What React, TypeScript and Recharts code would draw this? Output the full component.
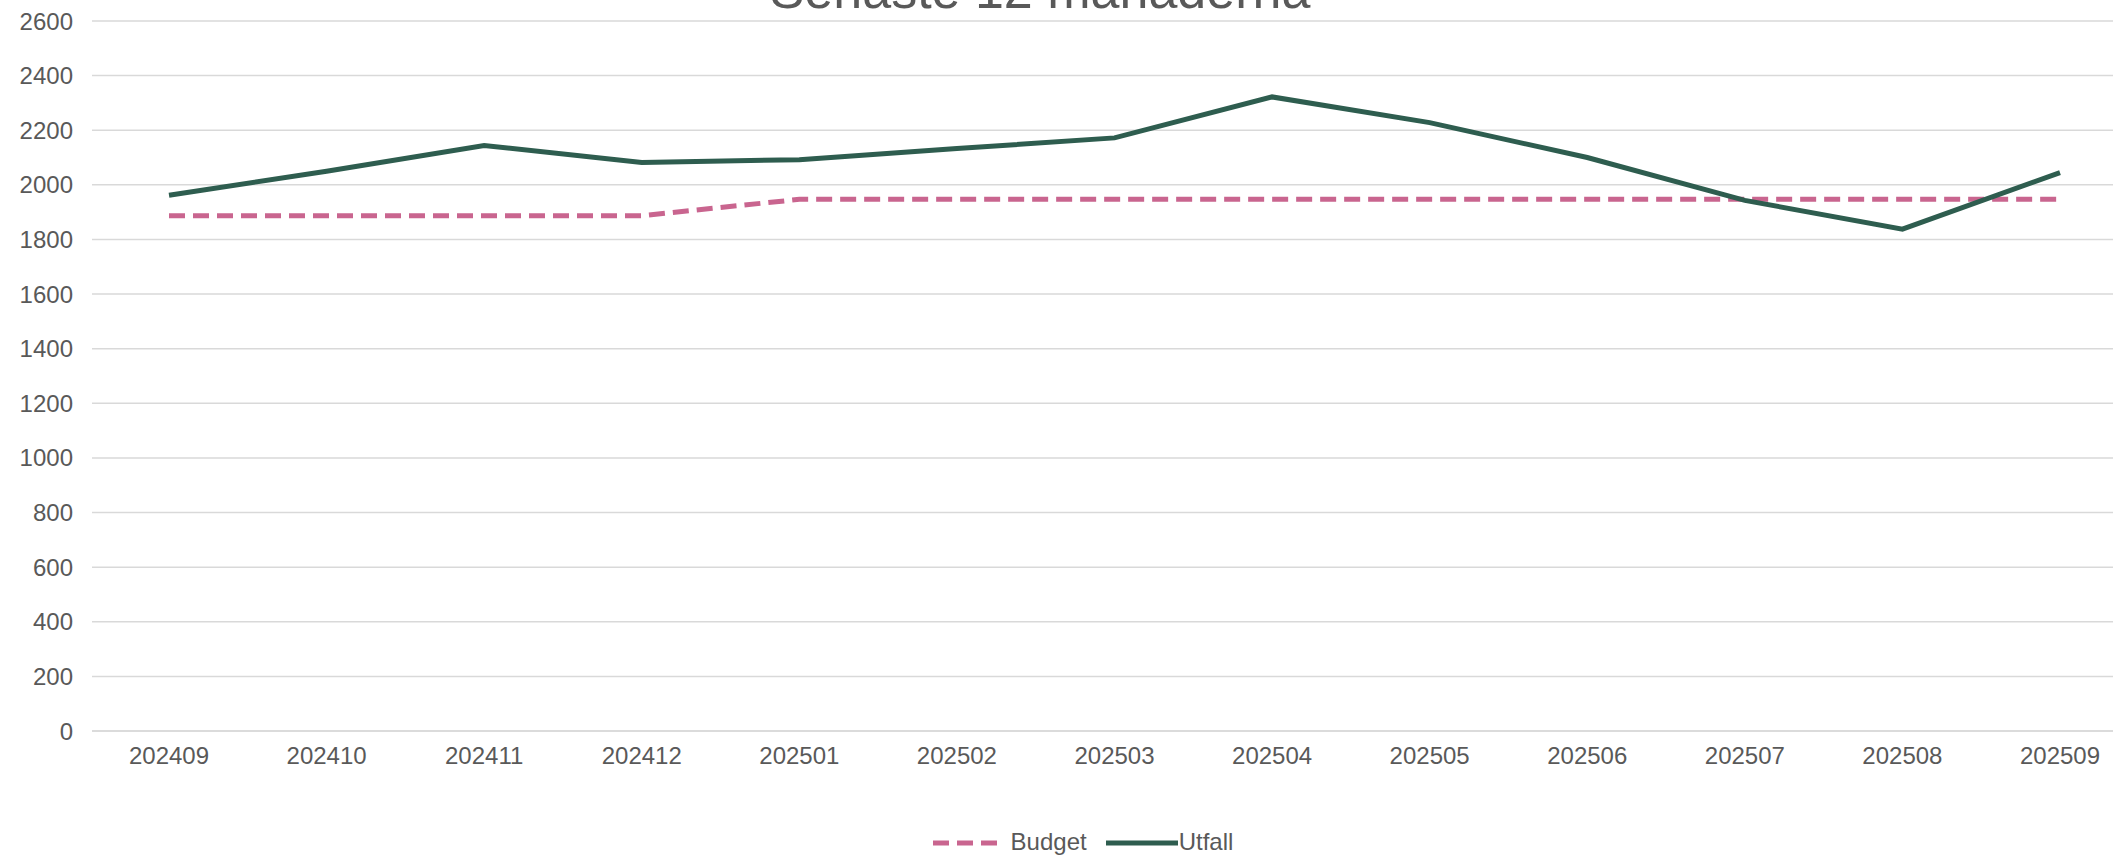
import React from 'react';
import { LineChart, Line, XAxis, YAxis, CartesianGrid, Legend } from 'recharts';

const months = ['202409', '202410', '202411', '202412', '202501', '202502', '202503', '202504', '202505', '202506', '202507', '202508', '202509'];
const budget = [1887, 1887, 1887, 1887, 1947, 1947, 1947, 1947, 1947, 1947, 1947, 1947, 1947];
const utfall = [1962, 2050, 2144, 2082, 2092, 2133, 2172, 2322, 2228, 2100, 1943, 1838, 2045];
const yTicks = [0, 200, 400, 600, 800, 1000, 1200, 1400, 1600, 1800, 2000, 2200, 2400, 2600];

const title = 'Senaste 12 månaderna';
const FONT = '"Liberation Sans", Arial, sans-serif';
const TEXT = '#595959';
const BUDGET_COLOR = '#c9658f';
const UTFALL_COLOR = '#2e5d4f';

const data = months.map((m, i) => ({ month: m, Budget: budget[i], Utfall: utfall[i] }));

function ChartLegend() {
  return (
    <div style={{ position: 'relative', top: 1, display: 'flex', justifyContent: 'center', alignItems: 'center', height: 30, paddingLeft: 53, fontFamily: FONT, fontSize: 24, color: TEXT }}>
      <svg width={67} height={30}>
        <line x1={0} y1={16} x2={67} y2={16} stroke={BUDGET_COLOR} strokeWidth={5} strokeDasharray="16 8" />
      </svg>
      <span style={{ marginLeft: 11, marginRight: 19 }}>Budget</span>
      <svg width={72} height={30}>
        <line x1={0} y1={16} x2={72} y2={16} stroke={UTFALL_COLOR} strokeWidth={5} />
      </svg>
      <span style={{ marginLeft: 1 }}>Utfall</span>
    </div>
  );
}

export default function App() {
  return (
    <div style={{ position: 'absolute', left: 0, top: 0, width: 2113, height: 856, background: '#fff', overflow: 'hidden' }}>
      <LineChart width={2113} height={856} data={data} margin={{ top: 21, right: 0, bottom: 0, left: 0 }}>
        <CartesianGrid vertical={false} stroke="#d9d9d9" strokeWidth={1.5} />
        <XAxis
          dataKey="month"
          height={95}
          padding={{ left: 77, right: 53 }}
          axisLine={{ stroke: '#d9d9d9', strokeWidth: 1.5 }}
          tickLine={false}
          tickMargin={10}
          interval={0}
          tick={{ fill: TEXT, fontSize: 24, fontFamily: FONT }}
        />
        <YAxis
          width={92}
          domain={[0, 2600]}
          ticks={yTicks}
          interval={0}
          axisLine={false}
          tickLine={false}
          tickMargin={13}
          tick={{ fill: TEXT, fontSize: 24, fontFamily: FONT }}
        />
        <Legend verticalAlign="bottom" content={() => <ChartLegend />} />
        <Line
          type="linear"
          dataKey="Budget"
          stroke={BUDGET_COLOR}
          strokeWidth={5}
          strokeDasharray="16 8"
          dot={false}
          activeDot={false}
          isAnimationActive={false}
        />
        <Line
          type="linear"
          dataKey="Utfall"
          stroke={UTFALL_COLOR}
          strokeWidth={5}
          dot={false}
          activeDot={false}
          isAnimationActive={false}
        />
      </LineChart>
      <svg width={2113} height={30} style={{ position: 'absolute', left: 0, top: 0 }}>
        <text x={1040} y={8} textAnchor="middle" fontFamily={FONT} fontSize={52} fill={TEXT}>
          {title}
        </text>
      </svg>
    </div>
  );
}
